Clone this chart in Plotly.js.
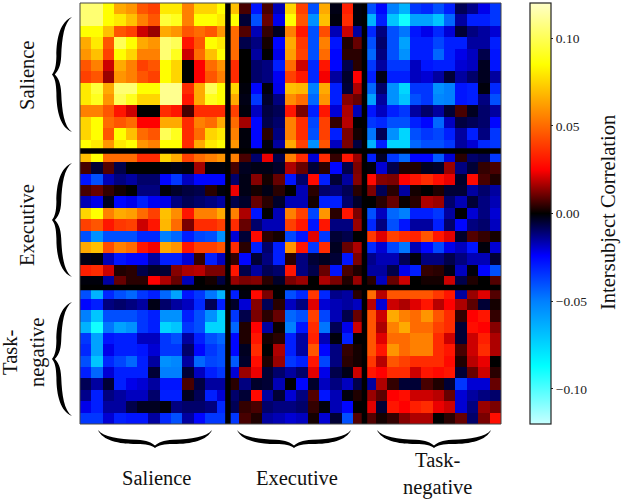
<!DOCTYPE html>
<html><head><meta charset="utf-8">
<script src="https://cdn.plot.ly/plotly-3.0.1.min.js"></script>
<style>html,body{margin:0;padding:0;background:#fff}</style></head>
<body><div id="chart" style="width:622px;height:500px"></div>
<script>
// Correlation values in hundredths. The matrix is symmetric: each row lists its cells from the diagonal rightwards.
const r00=[10.5,10.5,8.5,6.5,6,4.5,4,8,8,5.5,7.5,7.5,8.5, 7,0.7,-2.8,0.7,-1.7,7.5,4,-4,6.5,-0.2,3.2,-0.1, -4,-2.5,-5,-6.5,-3.5,-3.2,-4,-3,-0.8,-1.3,-2.2,-3.5];
const r01=[10.5,8.5,8,7,5.5,4.5,9.5,9,5.5,8.5,8.5,8, 8.5,-0.5,-4,1,-2.2,8.5,4.5,-5.5,7,-0.1,3.5,-0.1, -6.5,-3,-7,-9,-6,-6,-7,-4.5,-1.5,-3,-3,-3.5];
const r02=[7,4.5,4,2,1.5,6.5,6,4.5,5,4.5,6, 5,0.8,-1.7,0.5,-0.3,5.5,3,-4,4.3,-1.7,2,-1.5, -3.2,-1.2,-4,-4.8,-2.8,-2.2,-3.2,-2,-0.5,-1.2,-1.5,-2];
const r03=[10,8.5,6.5,6,10.5,10,3,4.5,8.5,8, 5,-0.7,-1.2,0.2,-2.5,6.5,3.8,-4,5.5,-2.8,0.3,1, -4,-1,-4,-6,-3,-3,-3.8,-3,-3,-1.5,-1.5,-3];
const r04=[7.5,5.5,5.5,10.5,9,2,5,7,8.5, 5,0,-1.5,0,-2.2,6.2,4,-4,5,-2.5,0.4,0.4, -4.5,-1.2,-4,-5.5,-3,-3,-4.5,-3,-2.2,-1.8,-0.7,-2.8];
const r05=[4,4.5,8.5,7.5,0,2.5,5,6, 3.5,0,-1,-1.2,-3,5,2,-3.2,3,-2.5,-0.7,0.4, -3.5,-1.5,-3.5,-3.5,-1.8,-2.8,-3,-3,-2,-1.8,-0.3,-2.8];
const r06=[4,8.5,7.5,0,2.5,4.5,5.5, 3.5,0,-1,-1.2,-2.3,4,3,-3.2,2.4,-1.5,-0.4,2.5, -3,-0.2,-3,-3,-1.8,-2,-1.5,-0.5,-1.5,-1,-0.3,-1.5];
const r07=[11,11,3.5,6.5,10,8.5, 7.5,-0.1,-2.5,-0.1,-2.2,7,6.8,-5,6.5,-3,-0.5,1.7, -4.5,-1,-5.5,-7.5,-3.5,-3.5,-5.5,-5,-2.8,-3,-0.1,-3.2];
const r08=[11,3,6.5,9,8.5, 6.5,-0.2,-3.5,-0.4,-1.2,5.8,5,-4.5,6,-3,1.3,1, -6,-1.5,-5.5,-7,-4,-3.5,-5.2,-5,-2.8,-3,-1.2,-4];
const r09=[0.7,3.5,3.5,3.5, 4,-0.1,-1.8,-0.6,-0.8,3,1.2,-3,3,-2,1.7,-1.7, -2.8,-1.8,-3,-3.5,-1.5,-1,-1.5,-0.5,0.7,-0.3,-1,-1.5];
const r10=[5.5,5,6.5, 5,1.6,-2.5,-0.7,-1,5.5,3.5,-3.8,4,0.5,1.8,0, -3.5,-3.2,-4,-4,-3,-2.5,-4.5,-1.8,-0.6,-0.8,-1,-2.5];
const r11=[7.5,8, 5.5,-0.1,-2.5,0.4,-1.2,5.5,3.5,-4,4,-3,1.2,0.2, -4.8,-0.8,-5.5,-7.5,-4,-3.5,-3.8,-3,-1.5,-3,-1.2,-3.5];
const r12=[8.5, 6,-0.1,-2.5,-0.1,-1.5,6.5,4,-5.5,4.5,-1.8,1.2,-0.6, -6.5,-3,-7.5,-7.5,-4.5,-4,-4,-3.5,-1.5,-2,-3.2,-3.5];
const r13=[5.5,0.7,-1,2.3,-0.7,5.5,3.5,-2,3.5,0.5,3,1.5, -3,-0.4,-3.5,-4.5,-2.5,-2.5,-4.2,-2,0.4,-1,-0.8,-3.5];
const r14=[-0.3,-0.2,-0.2,-0.4,1.7,1,-0.5,0.4,-2.5,-0.7,1.2, -0.1,-2,-0.7,0.3,0.3,-0.3,-0.4,1.5,-1.2,-0.5,0.5,0.7];
const r15=[1.3,0.2,1,-2.8,-1,2.7,-3,-0.5,-1.5,1.3, 2.7,1.3,1.2,2.5,3,3.5,2.8,2.3,-0.4,2.7,0.7,0.3];
const r16=[-0.2,0.4,0,-1.7,0.4,-1,-1.2,-0.8,0.4, 1.2,-0.8,0.4,-1.5,0.2,0,0.3,-0.5,-0.5,-1.5,-1,-1.5];
const r17=[-0.4,-1.7,-1.7,0.2,-3,-3,-1,-0.4, 0,0.4,1,0.1,0.4,1.7,1.5,-1,-1.7,-0.5,-1.2,-1.7];
const r18=[5.5,4,-3.8,6,0.4,3,1.2, -4,-1.8,-4.5,-5,-3,-3,-3.5,-1.5,0,-2,-1.2,-2];
const r19=[3,-2.8,3,-1.2,-1.2,1.5, -3.2,-1.2,-4,-2.8,-1.5,-1.5,-3,-1,-2.5,-1.2,-1,-1.8];
const r20=[2.2,-3.5,-0.5,-0.7,0, 3.8,2.2,4,3.5,3.3,4.5,3,2.2,-0.4,0.8,0.5,0.2];
const r21=[3.5,-0.3,1,1.7, -3.2,-2,-3.8,-4.8,-1.7,-2.5,-3.8,-2.2,-1.8,-2.8,-0.1,-2];
const r22=[-0.5,-2.8,1.2, -1.3,-1.7,-1.7,-0.8,-0.1,-1.2,-1.2,-0.7,-1.2,-1.7,-1.7,-0.5];
const r23=[0.7,0.3, -1.5,-1.5,-0.7,-2.2,-3,0.5,0.4,-0.2,-1.8,-0.1,-2.5,-4];
const r24=[1.5, 0.4,-1.8,1,2,0,0.2,0.2,2,-0.7,0.3,0,0.8];
const r25=[5,1.8,4.5,4.5,4.5,4.5,3.8,3,-1.5,1.5,2.2,0.8];
const r26=[-2,2,1.7,2.2,3,1.8,2.5,1.7,0.9,-0.5,0.2];
const r27=[6.5,5.5,5,6,4.5,3.5,0.5,2.5,3,0.5];
const r28=[6.5,5,5,4,3.5,-0.5,2.8,2.5,1.3];
const r29=[5.5,5.5,3.5,2,-0.5,2,3.2,1.7];
const r30=[5.5,3.5,3,0.7,2,3.5,1.7];
const r31=[3.5,2.7,0.3,1.8,2.3,0];
const r32=[3,-0.5,1,2,0.4];
const r33=[-3.5,-2,-2,1];
const r34=[-1.5,-1.2,-1];
const r35=[1.5,1.2];
const r36=[2.8];
const upperRows=[r00,r01,r02,r03,r04,r05,r06,r07,r08,r09,r10,r11,r12,r13,r14,r15,r16,r17,r18,r19,r20,r21,r22,r23,r24,r25,r26,r27,r28,r29,r30,r31,r32,r33,r34,r35,r36];

const groupSizes=[13,12,12];
const tickValues=[-0.10,-0.05,0,0.05,0.10];
const scaleLimit=0.12;
const colorTitle="Intersubject Correlation";
const serif="'Liberation Serif','Times New Roman',serif";

const W=622,H=500,L=80,R=501,T=3,B=424;
const n=upperRows.length;
const z=[];
for(let i=0;i<n;i++){z.push(new Array(n));}
upperRows.forEach((row,i)=>row.forEach((v,k)=>{z[i][i+k]=v/100;z[i+k][i]=v/100;}));

const stops=[[-12,'#c8ffff'],[-8.7,'#00ffff'],[-5,'#0080ff'],[-2.4,'#0000ff'],[0,'#000000'],[2.5,'#ff0000'],[5.5,'#ff8000'],[8.5,'#ffff00'],[12,'#ffffc8']];
const colorscale=stops.map(s=>[(s[0]+12)/24,s[1]]);

const px=x=>(x-L)/(R-L), py=y=>(B-y)/(B-T);
function pathFrom(map){
  const P=(u,v)=>{const p=map(u,v);return px(p[0])+','+py(p[1]);};
  return 'M'+P(0,0)+
   ' C'+P(0.05,0.40)+' '+P(0.18,0.50)+' '+P(0.34,0.54)+
   ' C'+P(0.43,0.56)+' '+P(0.47,0.70)+' '+P(0.5,0.86)+
   ' C'+P(0.53,0.70)+' '+P(0.57,0.56)+' '+P(0.66,0.54)+
   ' C'+P(0.82,0.50)+' '+P(0.95,0.40)+' '+P(1,0)+
   ' C'+P(0.96,0.58)+' '+P(0.82,0.78)+' '+P(0.66,0.78)+
   ' C'+P(0.58,0.79)+' '+P(0.53,0.85)+' '+P(0.5,1)+
   ' C'+P(0.47,0.85)+' '+P(0.42,0.79)+' '+P(0.34,0.78)+
   ' C'+P(0.18,0.78)+' '+P(0.04,0.58)+' '+P(0,0)+' Z';
}
const shapes=[];
[[17,132],[163,277],[302,416]].forEach(s=>shapes.push({type:'path',xref:'paper',yref:'paper',fillcolor:'#000',line:{width:0},
  path:pathFrom((u,v)=>[72-v*20,s[0]+u*(s[1]-s[0])])}));
[[98,212],[237,351],[377,491]].forEach(s=>shapes.push({type:'path',xref:'paper',yref:'paper',fillcolor:'#000',line:{width:0},
  path:pathFrom((u,v)=>[s[0]+u*(s[1]-s[0]),430+v*18])}));
let edge=-0.5;
groupSizes.slice(0,-1).forEach(g=>{edge+=g;
  shapes.push({type:'line',xref:'x',yref:'paper',x0:edge,x1:edge,y0:0,y1:1,line:{color:'#000',width:5.5}});
  shapes.push({type:'line',xref:'paper',yref:'y',x0:0,x1:1,y0:edge,y1:edge,line:{color:'#000',width:5.5}});
});
shapes.push({type:'rect',xref:'paper',yref:'paper',x0:0,x1:1,y0:0,y1:1,line:{color:'#444',width:1}});

const note=(text,x,y,size,angle)=>({text:text,xref:'paper',yref:'paper',x:px(x),y:py(y),xanchor:'center',yanchor:'middle',showarrow:false,align:'center',textangle:angle||0,font:{family:serif,size:size,color:'#111'}});
const annotations=[
 note('Salience',27,76,20.5,-90),
 note('Executive',27,225,20.5,-90),
 note('Task-<br>negative',24,353,20.5,-90),
 note('Salience',156,478,20.5),
 note('Executive',297,478,20.5),
 note('Task-<br>negative',437,474,20.5),
 note(colorTitle,608,213,20.5,-90)
];

Plotly.newPlot('chart',[{type:'heatmap',z:z,zmin:-scaleLimit,zmax:scaleLimit,colorscale:colorscale,zsmooth:false,hoverongaps:false,
  colorbar:{x:(530.5-L)/(R-L),xanchor:'left',xpad:0,ypad:0,y:0.5,yanchor:'middle',len:1,lenmode:'fraction',thickness:21,thicknessmode:'pixels',
    outlinecolor:'#222',outlinewidth:1.2,tickmode:'array',tickvals:tickValues,tickformat:'.2f',ticks:'outside',ticklen:2,tickwidth:1,tickcolor:'#222',
    tickfont:{family:serif,size:13.5,color:'#222'}}}],
 {width:W,height:H,margin:{l:L,r:W-R,t:T,b:H-B},paper_bgcolor:'#fff',plot_bgcolor:'#000',showlegend:false,
  xaxis:{visible:false,range:[-0.5,n-0.5],constrain:'domain'},
  yaxis:{visible:false,range:[n-0.5,-0.5],constrain:'domain'},
  shapes:shapes,annotations:annotations},
 {displayModeBar:false,staticPlot:true});
</script></body></html>
